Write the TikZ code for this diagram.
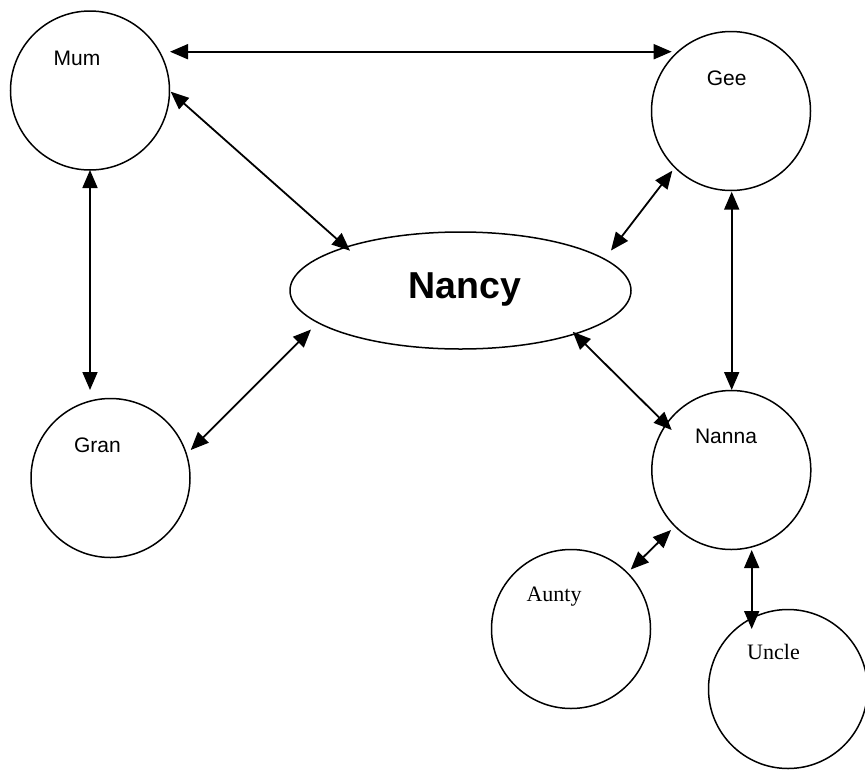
\documentclass[tikz,border=0pt]{standalone}
\usepackage{fontspec}
\setmainfont{Liberation Serif}
\newfontfamily\labsans{Liberation Sans}
\usetikzlibrary{arrows.meta,shapes.geometric}
\tikzset{
  person/.style={circle,draw,line width=1.5pt,minimum size=159pt,inner sep=0pt},
  centre/.style={ellipse,draw,line width=1.5pt,minimum width=341pt,minimum height=117pt,inner sep=0pt},
  sanslab/.style={anchor=base,inner sep=0pt,font=\labsans\fontsize{21}{24}\selectfont},
  seriflab/.style={anchor=base,inner sep=0pt,font=\fontsize{22}{25}\selectfont},
  biglab/.style={anchor=base,inner sep=0pt,font=\labsans\bfseries\fontsize{37.5}{42}\selectfont},
  link/.style={line width=1.8pt,{Triangle[length=18pt,width=15pt]}-{Triangle[length=18pt,width=15pt]}}
}
\begin{document}
\begin{tikzpicture}[x=1pt,y=-1pt]
\useasboundingbox (0,0) rectangle (865,772);
% shapes
\node[person] (mum) at (90,90.5) {};
\node[person] (gee) at (731,111) {};
\node[person] (gran) at (110.5,478) {};
\node[person] (nanna) at (731.3,470) {};
\node[person] (aunty) at (571,629) {};
\node[person] (uncle) at (788,689) {};
\node[centre] (nancy) at (460.5,290.5) {};
% labels
\node[sanslab] (mumT) at (77,65) {Mum};
\node[sanslab] (geeT) at (726.7,85) {Gee};
\node[sanslab] (granT) at (97.5,452.3) {Gran};
\node[sanslab] (nannaT) at (726,443) {Nanna};
\node[seriflab] (auntyT) at (554,601) {Aunty};
\node[seriflab] (uncleT) at (773.5,659) {Uncle};
\node[biglab] (nancyT) at (464.7,298.3) {Nancy};
% connector end points
\coordinate (mumGee) at (170,51.7);
\coordinate (geeMum) at (671.7,51.7);
\coordinate (mumNancy) at (170.7,91.7);
\coordinate (nancyMum) at (350,250.7);
\coordinate (mumGran) at (90,170);
\coordinate (granMum) at (90,390);
\coordinate (geeNancy) at (672.3,170.7);
\coordinate (nancyGee) at (611,250.5);
\coordinate (geeNanna) at (731.7,191.7);
\coordinate (nannaGee) at (731.7,390);
\coordinate (granNancy) at (190.7,450);
\coordinate (nancyGran) at (311,329.5);
\coordinate (nancyNanna) at (572.7,331.7);
\coordinate (nannaNancy) at (671.7,430);
\coordinate (nannaAunty) at (671,530);
\coordinate (auntyNanna) at (630.7,569.5);
\coordinate (nannaUncle) at (751.7,550);
\coordinate (uncleNanna) at (751.7,629);
% connectors
\draw[link] (mumGee) -- (geeMum);
\draw[link] (mumNancy) -- (nancyMum);
\draw[link] (mumGran) -- (granMum);
\draw[link] (geeNancy) -- (nancyGee);
\draw[link] (geeNanna) -- (nannaGee);
\draw[link] (granNancy) -- (nancyGran);
\draw[link] (nancyNanna) -- (nannaNancy);
\draw[link] (nannaAunty) -- (auntyNanna);
\draw[link] (nannaUncle) -- (uncleNanna);
\end{tikzpicture}
\end{document}
